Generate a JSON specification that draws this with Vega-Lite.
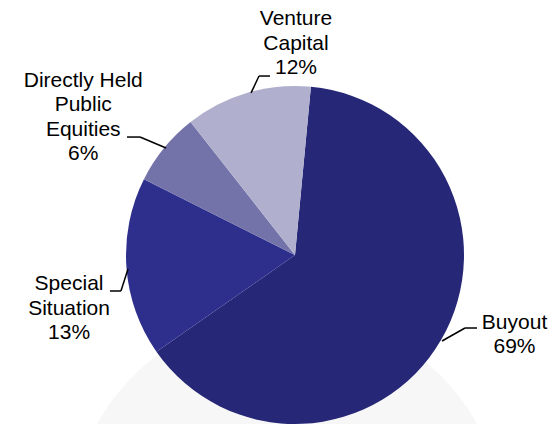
{
  "$schema": "https://vega.github.io/schema/vega-lite/v6.json",
  "width": 338,
  "height": 338,
  "autosize": {"type": "none"},
  "padding": {"left": 126, "top": 86, "right": 91, "bottom": 0},
  "background": "white",
  "config": {"view": {"stroke": null}, "font": "Liberation Sans"},
  "data": {
    "values": [
      {"segment": "Buyout", "rank": 1, "share": 63.8, "label": "Buyout\n69%", "lx": 1.299, "ly": -0.402, "ex": 0.870, "ey": -0.509, "kx": 1.006, "ky": -0.432, "hx": 1.077},
      {"segment": "Special Situation", "rank": 2, "share": 17.1, "label": "Special\nSituation\n13%", "lx": -1.337, "ly": -0.172, "ex": -0.988, "ey": -0.083, "kx": -1.030, "ky": -0.213, "hx": -1.095},
      {"segment": "Directly Held Public Equities", "rank": 3, "share": 7.0, "label": "Directly Held\nPublic\nEquities\n6%", "lx": -1.253, "ly": 1.030, "ex": -0.763, "ey": 0.633, "kx": -0.917, "ky": 0.698, "hx": -0.994},
      {"segment": "Venture Capital", "rank": 4, "share": 12.1, "label": "Venture\nCapital\n12%", "lx": 0.006, "ly": 1.396, "ex": -0.260, "ey": 0.959, "kx": -0.213, "ky": 1.059, "hx": -0.148}
    ]
  },
  "layer": [
    {
      "data": {"values": [{}]},
      "mark": {"type": "point", "filled": true, "shape": "circle", "size": 189400, "color": "#F7F7F7", "opacity": 1, "strokeWidth": 0},
      "encoding": {
        "x": {"datum": -0.047, "type": "quantitative", "scale": {"domain": [-1, 1], "nice": false, "zero": false}, "axis": null},
        "y": {"datum": -1.627, "type": "quantitative", "scale": {"domain": [-1, 1], "nice": false, "zero": false}, "axis": null}
      }
    },
    {
      "mark": {"type": "arc", "outerRadius": 169},
      "encoding": {
        "theta": {"field": "share", "type": "quantitative", "stack": true, "scale": {"range": [0.0942, 6.3774]}},
        "order": {"field": "rank", "type": "quantitative"},
        "color": {
          "field": "segment",
          "type": "nominal",
          "scale": {
            "domain": ["Buyout", "Special Situation", "Directly Held Public Equities", "Venture Capital"],
            "range": ["#262777", "#2E2F8C", "#7373AA", "#B0B0CE"]
          },
          "legend": null
        }
      }
    },
    {
      "mark": {"type": "rule", "color": "black", "strokeWidth": 1.5},
      "encoding": {
        "x": {"field": "ex", "type": "quantitative", "scale": {"domain": [-1, 1], "nice": false, "zero": false}, "axis": null},
        "y": {"field": "ey", "type": "quantitative", "scale": {"domain": [-1, 1], "nice": false, "zero": false}, "axis": null},
        "x2": {"field": "kx"},
        "y2": {"field": "ky"}
      }
    },
    {
      "mark": {"type": "rule", "color": "black", "strokeWidth": 1.5},
      "encoding": {
        "x": {"field": "kx", "type": "quantitative", "scale": {"domain": [-1, 1], "nice": false, "zero": false}, "axis": null},
        "y": {"field": "ky", "type": "quantitative", "scale": {"domain": [-1, 1], "nice": false, "zero": false}, "axis": null},
        "x2": {"field": "hx"}
      }
    },
    {
      "mark": {"type": "text", "font": "Liberation Sans", "fontSize": 21, "lineHeight": 24.5, "lineBreak": "\n", "align": "center", "baseline": "middle", "color": "black"},
      "encoding": {
        "x": {"field": "lx", "type": "quantitative", "scale": {"domain": [-1, 1], "nice": false, "zero": false}, "axis": null},
        "y": {"field": "ly", "type": "quantitative", "scale": {"domain": [-1, 1], "nice": false, "zero": false}, "axis": null},
        "text": {"field": "label"}
      }
    }
  ]
}
